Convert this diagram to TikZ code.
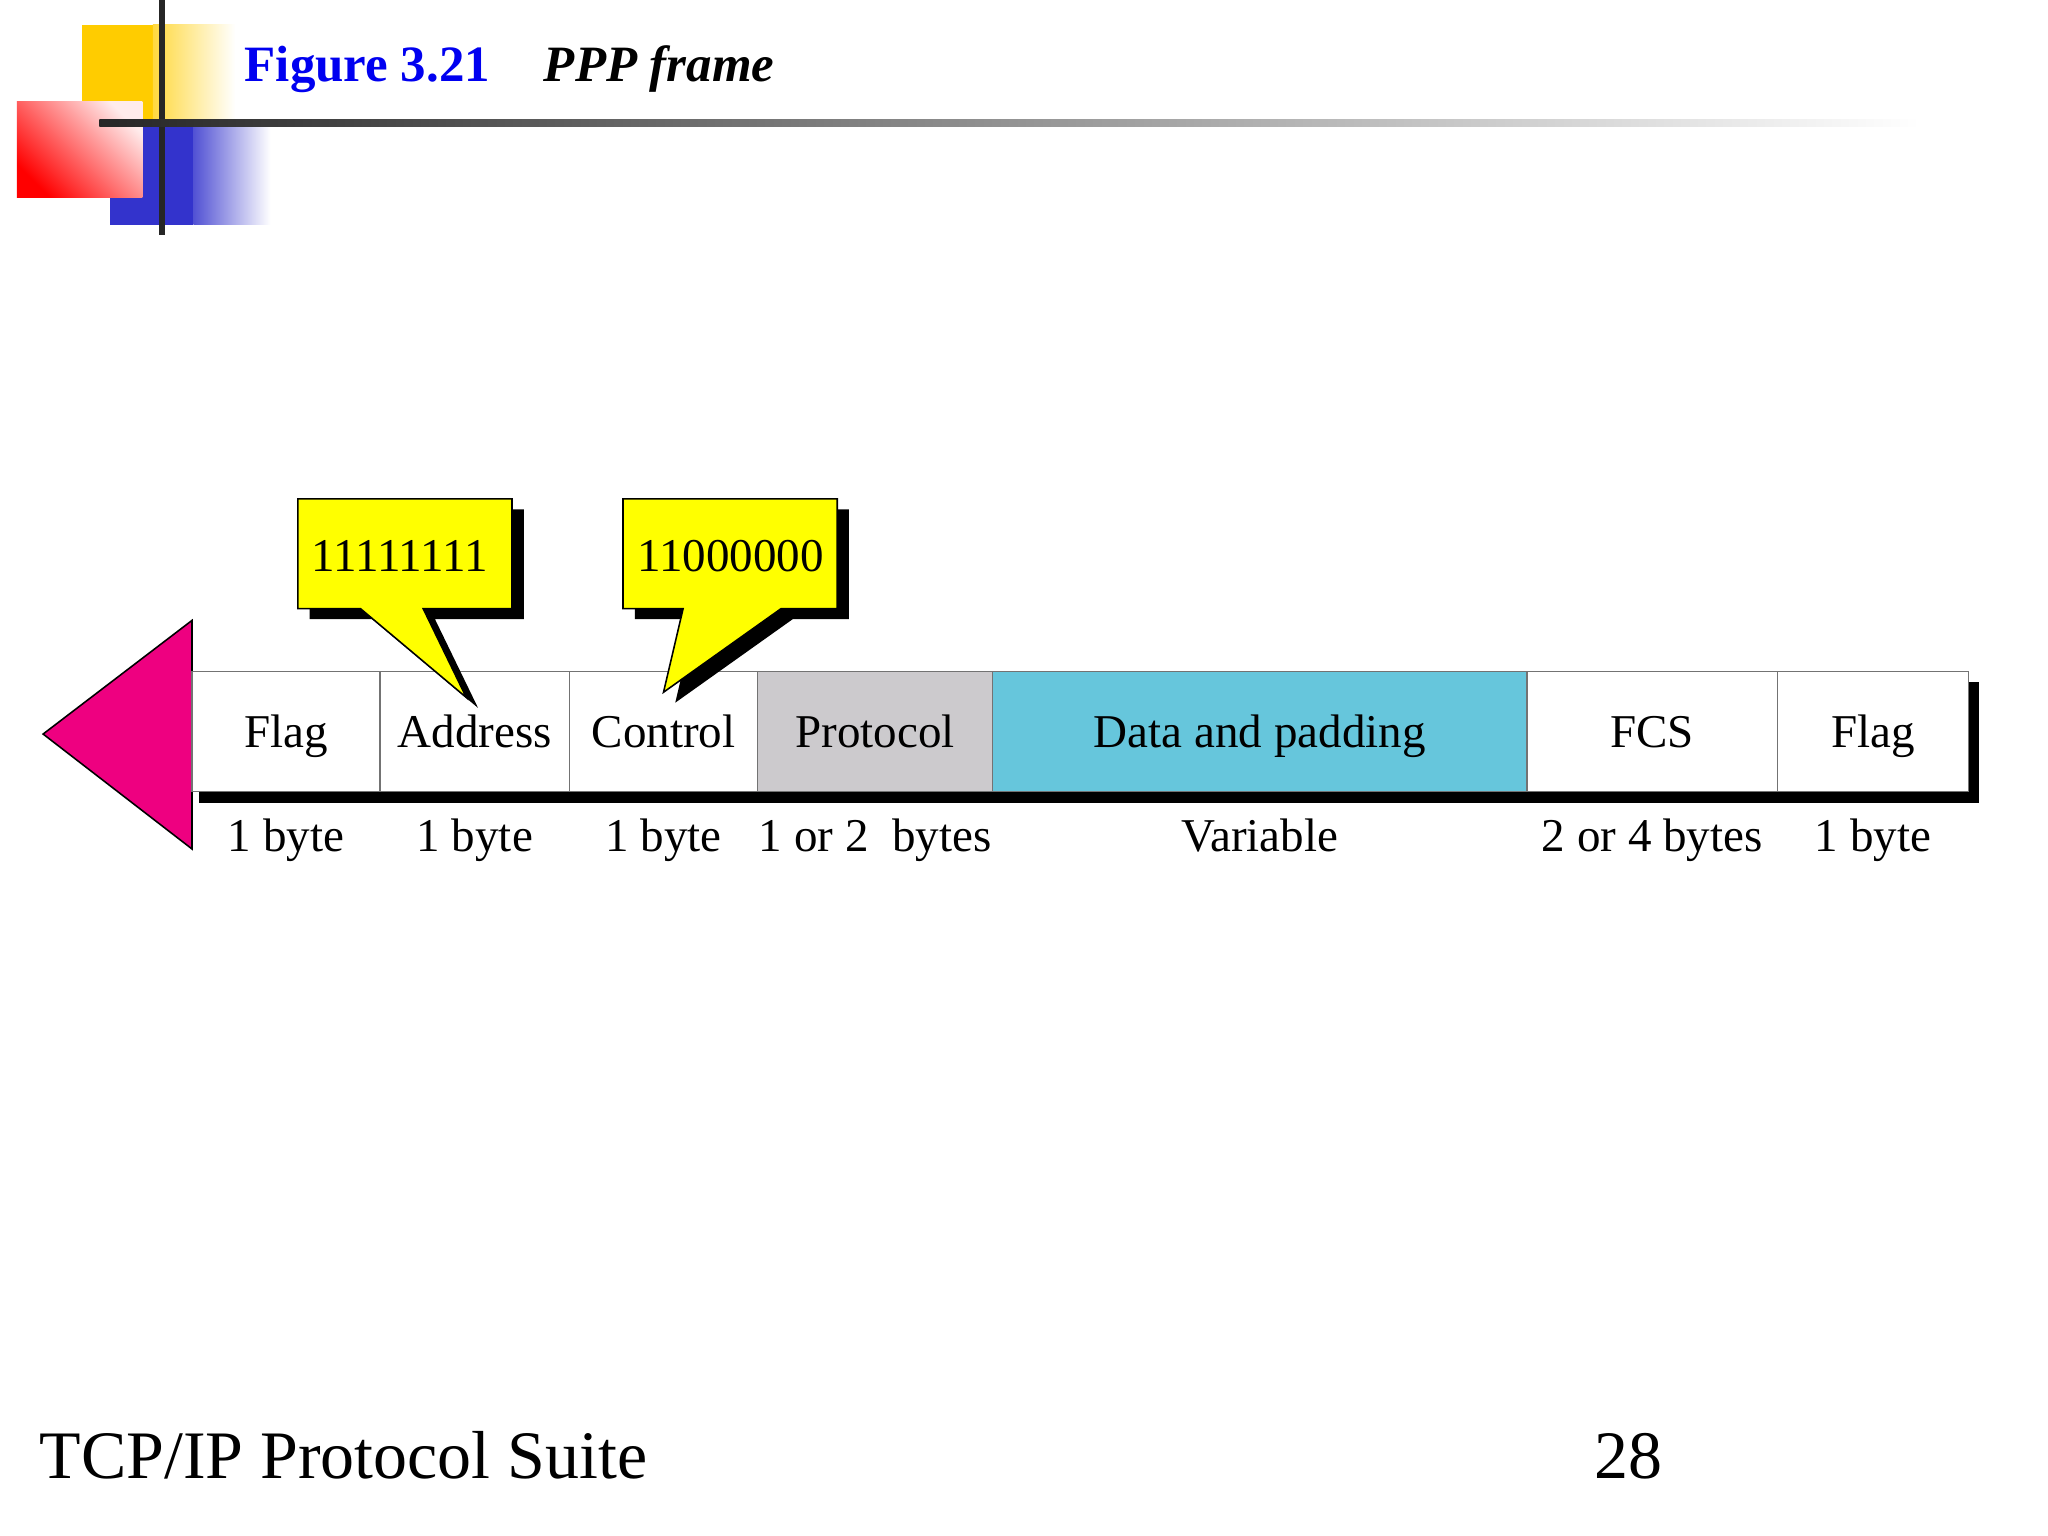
\documentclass[tikz,border=0pt]{standalone}
\usepackage{fontspec}
\setmainfont{Liberation Serif}
\usepackage{xcolor}
\usetikzlibrary{positioning, calc}

\definecolor{cornyellow}{RGB}{255,204,0}
\definecolor{cornblue}{RGB}{51,51,204}
\definecolor{figblue}{RGB}{0,0,240}
\definecolor{protogray}{RGB}{204,202,205}
\definecolor{datablue}{RGB}{102,198,220}
\definecolor{trimagenta}{RGB}{238,0,128}
\definecolor{bubbleyellow}{RGB}{255,255,0}

\newcommand\figheadfont{\fontsize{19.5}{22}\selectfont\bfseries}
\newcommand\fieldfont{\fontsize{18}{20}\selectfont}
\newcommand\slidefootfont{\fontsize{26}{30}\selectfont}

\tikzset{
  cell/.style={draw=black!55, line width=0.6pt, minimum height=46pt, inner sep=0pt,
    outer sep=0pt, text height=12pt, text depth=0pt, font=\fieldfont},
  sizelabel/.style={anchor=base, inner sep=0pt, font=\fieldfont},
  bubble/.style={draw=black, line width=0.6pt, fill=bubbleyellow},
  bubbletext/.style={anchor=base, inner sep=0pt, font=\fieldfont}
}

\begin{document}
\begin{tikzpicture}[x=0.5pt, y=-0.5pt]
        \useasboundingbox (0,0) rectangle (1568,1176);
        \fill[white] (0,0) rectangle (1568,1176);

        % corner squares
        \fill[cornyellow] (63,19) rectangle (117,95);
        \shade[left color=cornyellow!75, right color=white] (117,19) rectangle (180,95);
        \fill[cornblue] (84,92) rectangle (148,172);
        \shade[left color=cornblue!85, right color=white] (148,92) rectangle (207,172);
        \shade[left color=red, right color=red!8, shading angle=135] (13,78) rectangle (109,151);

        % header rules
        \fill[black!85] (121.5,0) rectangle (126.5,180);
        \shade[left color=black!85, middle color=black!55, right color=white] (76,91.5) rectangle (1470,96.5);

        \node (figno) at (187,62.5) [anchor=base west, inner sep=0pt, font=\figheadfont, text=figblue] {Figure 3.21};
        \node (figname) at (416,62.5) [anchor=base west, inner sep=0pt, font=\figheadfont\itshape] {PPP frame};

        % frame shadow and direction arrow
        \fill[black] (152,522) rectangle (1515,615);
        \draw[fill=trimagenta, line width=0.6pt] (33,562) -- (147,475) -- (147,650) -- cycle;

        % frame fields
        \node (flagA) at (219,560) [cell, minimum width=72pt, fill=white] {Flag};
        \node (addr) at (363.5,560) [cell, minimum width=72.5pt, fill=white] {Address};
        \node (ctrl) at (508,560) [cell, minimum width=72pt, fill=white] {Control};
        \node (proto) at (670,560) [cell, minimum width=90pt, fill=protogray] {Protocol};
        \node (data) at (964.5,560) [cell, minimum width=204.5pt, fill=datablue] {Data and padding};
        \node (fcs) at (1265,560) [cell, minimum width=96pt, fill=white] {FCS};
        \node (flagB) at (1434,560) [cell, minimum width=73pt, fill=white] {Flag};

        % field sizes
        \node (szflagA) at (219,652) [sizelabel] {1 byte};
        \node (szaddr) at (363.5,652) [sizelabel] {1 byte};
        \node (szctrl) at (508,652) [sizelabel] {1 byte};
        \node (szproto) at (670,652) [sizelabel] {1 or 2\ \ bytes};
        \node (szdata) at (964.5,652) [sizelabel] {Variable};
        \node (szfcs) at (1265,652) [sizelabel] {2 or 4 bytes};
        \node (szflagB) at (1434,652) [sizelabel] {1 byte};

        % callouts
        \fill[black, shift={(9,8)}] (228,382) -- (392,382) -- (392,466) -- (324,466) -- (357,534) -- (276,466) -- (228,466) -- cycle;
        \draw[bubble] (228,382) -- (392,382) -- (392,466) -- (324,466) -- (357,534) -- (276,466) -- (228,466) -- cycle;
        \node (addrbits) at (306,437.7) [bubbletext] {11111111};

        \fill[black, shift={(9,8)}] (477,382) -- (641,382) -- (641,466) -- (598,466) -- (508,530) -- (523,466) -- (477,466) -- cycle;
        \draw[bubble] (477,382) -- (641,382) -- (641,466) -- (598,466) -- (508,530) -- (523,466) -- (477,466) -- cycle;
        \node (ctrlbits) at (559.5,437.7) [bubbletext] {11000000};

        % footer
        \node (suite) at (30,1132) [anchor=base west, inner sep=0pt, font=\slidefootfont] {TCP/IP Protocol Suite};
        \node (pageno) at (1273,1132) [anchor=base east, inner sep=0pt, font=\slidefootfont] {28};
    \end{tikzpicture}
\end{document}
